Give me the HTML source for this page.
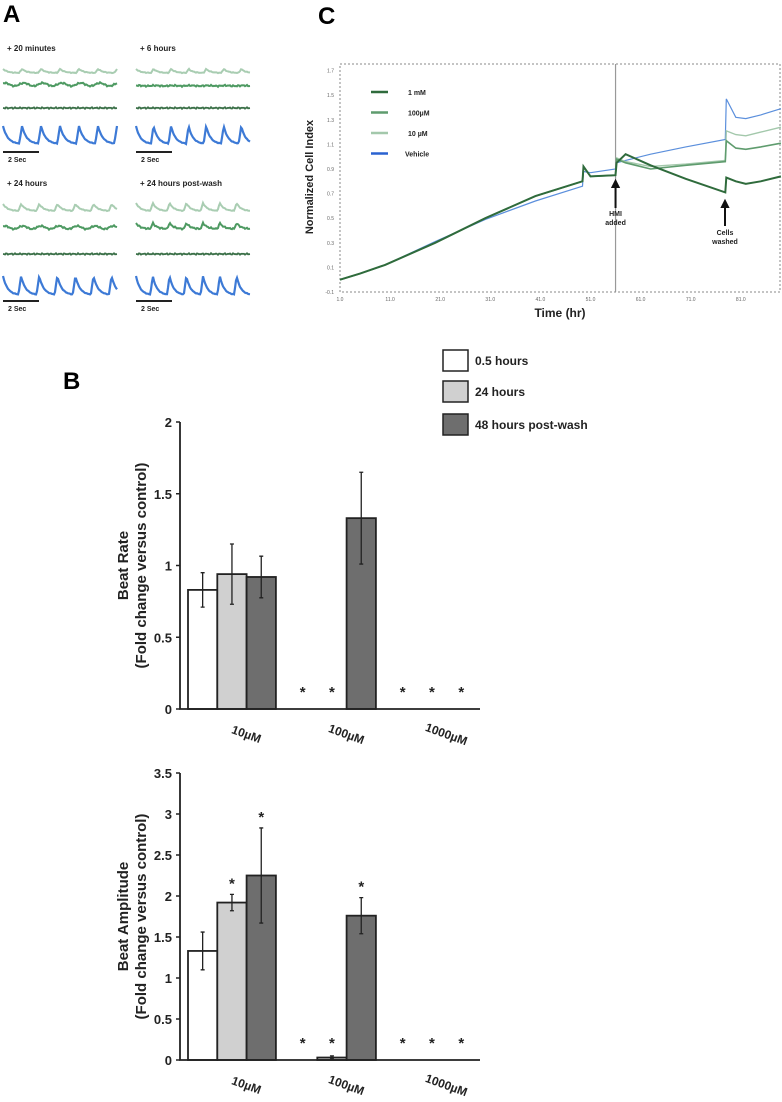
<!DOCTYPE html>
<html><head><meta charset="utf-8">
<style>
html,body{margin:0;padding:0;background:#fff;}
svg{display:block;font-family:"Liberation Sans",sans-serif;}
</style></head>
<body>
<svg id="fig" width="782" height="1102" viewBox="0 0 782 1102" xmlns="http://www.w3.org/2000/svg">
<text x="3" y="22" font-size="24" font-weight="bold">A</text>
<text x="318" y="24" font-size="24" font-weight="bold">C</text>
<text x="63" y="389" font-size="24" font-weight="bold">B</text>
<g id="panelA"></g>
<g id="panelC"></g>
<g id="rate"></g>
<g id="amp"></g>
<g>
<rect x="443" y="350" width="25" height="21" fill="#fff" stroke="#222" stroke-width="1.5"/>
<text x="475" y="365" font-size="12" font-weight="bold" fill="#222">0.5 hours</text>
<rect x="443" y="381" width="25" height="21" fill="#d0d0d0" stroke="#222" stroke-width="1.5"/>
<text x="475" y="396" font-size="12" font-weight="bold" fill="#222">24 hours</text>
<rect x="443" y="414" width="25" height="21" fill="#6e6e6e" stroke="#222" stroke-width="1.5"/>
<text x="475" y="429" font-size="12" font-weight="bold" fill="#222">48 hours post-wash</text>
</g>
</svg>
<script>
const NS="http://www.w3.org/2000/svg";
function mk(parent,tag,attrs,txt){const e=document.createElementNS(NS,tag);for(const k in attrs)e.setAttribute(k,attrs[k]);if(txt!==undefined)e.textContent=txt;parent.appendChild(e);return e;}

/* ---------- Panel B data ---------- */
const groups=["10µM","100µM","1000µM"];
const rateMean0=[0.83,0,0], rateMean24=[0.94,0,0], rateMean48=[0.92,1.33,0];
const rateErr0=[0.12,0,0], rateErr24=[0.21,0,0], rateErr48=[0.145,0.32,0];
const rateStar0=[0,1,1], rateStar24=[0,1,1], rateStar48=[0,0,1];
const ampMean0=[1.33,0,0], ampMean24=[1.92,0.03,0], ampMean48=[2.25,1.76,0];
const ampErr0=[0.23,0,0], ampErr24=[0.1,0.02,0], ampErr48=[0.58,0.22,0];
const ampStar0=[0,1,1], ampStar24=[1,1,1], ampStar48=[1,1,1];
const rateTicks=["0","0.5","1","1.5","2"];
const ampTicks=["0","0.5","1","1.5","2","2.5","3","3.5"];

function barChart(g,y0,pxPerUnit,ticks,means,errs,stars,ylab1){
  const ax=180,ar=480;
  const y=v=>y0-v*pxPerUnit;
  const gx=i=>188+i*100;
  const fills=["#ffffff","#d0d0d0","#6e6e6e"];
  ticks.forEach(t=>{const v=parseFloat(t);
    const tl=mk(g,'line',{x1:ax-4,x2:ax,y1:y(v),y2:y(v),stroke:'#222','stroke-width':1.5});
    
    const tt=mk(g,'text',{x:ax-8,y:y(v)+5,'font-size':13,'font-weight':'bold','text-anchor':'end',fill:'#222'},t);
    
  });
  for(let s=0;s<3;s++){
    for(let i=0;i<3;i++){
      const m=means[s][i],e=errs[s][i],x=gx(i)+s*29.3,w=29.3,cx=x+w/2;
      if(m>0){
        const r=mk(g,'rect',{x:x,y:y(m),width:w,height:y0-y(m),fill:fills[s],stroke:'#222','stroke-width':1.8});
        
      }
      if(e>0){
        const el=mk(g,'path',{d:`M${cx} ${y(m+e)}V${y(m-e)}M${cx-2} ${y(m+e)}H${cx+2}M${cx-2} ${y(m-e)}H${cx+2}`,stroke:'#222','stroke-width':1.3,fill:'none'});
        
      }
      if(stars[s][i]){
        const sy=m>0.1? y(m+e)-12 : y0-18;
        const st=mk(g,'text',{x:cx,y:sy+6,'font-size':15,'font-weight':'bold','text-anchor':'middle',fill:'#222'},'*');
        
      }
    }
  }
  const axl=mk(g,'path',{d:`M${ax} ${y(parseFloat(ticks[ticks.length-1]))}V${y0}H${ar}`,stroke:'#222','stroke-width':1.8,fill:'none'});
  
  groups.forEach((n,i)=>{
    const cx=gx(i)+57;
    const t=mk(g,'text',{x:0,y:0,'font-size':12,'font-weight':'bold',fill:'#222','text-anchor':'middle',transform:`translate(${cx},${y0+29}) rotate(20)`},n);
    
  });
  const cy=y(parseFloat(ticks[ticks.length-1])/2);
  const l1=mk(g,'text',{x:0,y:0,'font-size':15,'font-weight':'bold',fill:'#222','text-anchor':'middle',transform:`translate(128,${cy}) rotate(-90)`},ylab1);
  
  const l2=mk(g,'text',{x:0,y:0,'font-size':15,'font-weight':'bold',fill:'#222','text-anchor':'middle',transform:`translate(146,${cy}) rotate(-90)`},'(Fold change versus control)');
  
}
barChart(document.getElementById('rate'),709,143.5,rateTicks,[rateMean0,rateMean24,rateMean48],[rateErr0,rateErr24,rateErr48],[rateStar0,rateStar24,rateStar48],'Beat Rate');
barChart(document.getElementById('amp'),1060,82,ampTicks,[ampMean0,ampMean24,ampMean48],[ampErr0,ampErr24,ampErr48],[ampStar0,ampStar24,ampStar48],'Beat Amplitude');

/* ---------- Panel C data ---------- */
const cTimes=[1,5,10,20,30,40,49.4,49.6,51,56,56.2,58,63,70,77.9,78.1,80,82,85,89];
const c1mM=[0,0.05,0.12,0.3,0.5,0.68,0.8,0.92,0.84,0.85,0.95,1.02,0.93,0.82,0.71,0.83,0.8,0.78,0.8,0.84];
const c100=[0,0.05,0.12,0.3,0.5,0.68,0.8,0.92,0.84,0.85,0.98,0.95,0.9,0.93,0.96,1.13,1.07,1.06,1.08,1.11];
const c10=[0,0.05,0.12,0.3,0.5,0.68,0.8,0.92,0.84,0.85,0.99,0.96,0.92,0.94,0.97,1.21,1.18,1.17,1.2,1.24];
const cVeh=[0,0.05,0.12,0.31,0.49,0.64,0.76,0.88,0.87,0.9,0.95,0.97,1.02,1.08,1.14,1.47,1.32,1.31,1.34,1.39];
const cYTicks=["-0.1","0.1","0.3","0.5","0.7","0.9","1.1","1.3","1.5","1.7"];
const cXTicks=["1.0","11.0","21.0","31.0","41.0","51.0","61.0","71.0","81.0"];
(function(){
  const g=document.getElementById('panelC');
  const X=t=>340+(t-1)*5.01, Y=v=>292-(v+0.1)*123;
  const box=mk(g,'rect',{x:340,y:64,width:440,height:228,fill:'none',stroke:'#888','stroke-width':1,'stroke-dasharray':'2,2'});
  
  cYTicks.forEach(t=>{const v=parseFloat(t);
    const e=mk(g,'text',{x:334,y:Y(v)+2,'font-size':5,'text-anchor':'end',fill:'#666'},t);
    });
  cXTicks.forEach(t=>{const v=parseFloat(t);
    const e=mk(g,'text',{x:X(v),y:301,'font-size':5,'text-anchor':'middle',fill:'#666'},t);
    });
  const vl=mk(g,'line',{x1:X(56),x2:X(56),y1:64,y2:292,stroke:'#999','stroke-width':1.2});
  
  const series=[[cVeh,'#5b8fdc',1.2],[c10,'#a3c8ab',1.4],[c100,'#5f9c6e',1.6],[c1mM,'#2f6b3c',2]];
  series.forEach(s=>{
    const d=cTimes.map((t,i)=>(i?'L':'M')+X(t).toFixed(1)+' '+Y(s[0][i]).toFixed(1)).join('');
    const p=mk(g,'path',{d:d,fill:'none',stroke:s[1],'stroke-width':s[2]});
    
  });
  const leg=[['1 mM','#2f6b3c'],['100µM','#5f9c6e'],['10 µM','#a3c8ab'],['Vehicle','#2a62d0']];
  leg.forEach((l,i)=>{const yy=92+i*20.5;
    const ln=mk(g,'line',{x1:371,x2:388,y1:yy,y2:yy,stroke:l[1],'stroke-width':2.5});
    
    const tx=mk(g,'text',{x:i==3?405:408,y:yy+3,'font-size':7,'font-weight':'bold',fill:'#222'},l[0]);
    
  });
  const arrow=(x,y1,y2,nm)=>{const a=mk(g,'path',{d:`M${x} ${y2}V${y1+4}M${x-3} ${y1+6}L${x} ${y1}L${x+3} ${y1+6}Z`,stroke:'#111','stroke-width':2,fill:'#111'});
    };
  arrow(X(56),181,208,'hmi-arrow');arrow(725,201,226,'wash-arrow');
  [['HMI',X(56),216],['added',X(56),225],['Cells',725,235],['washed',725,244]].forEach(a=>{
    const t=mk(g,'text',{x:a[1],y:a[2],'font-size':7,'font-weight':'bold','text-anchor':'middle',fill:'#222'},a[0]);
    });
  const yt=mk(g,'text',{x:0,y:0,'font-size':11,'font-weight':'bold',fill:'#222','text-anchor':'middle',transform:'translate(313,177) rotate(-90)'},'Normalized Cell Index');
  
  const xt=mk(g,'text',{x:560,y:317,'font-size':12,'font-weight':'bold',fill:'#222','text-anchor':'middle'},'Time (hr)');
  
})();

/* ---------- Panel A traces ---------- */
const aLabels=["+ 20 minutes","+ 6 hours","+ 24 hours","+ 24 hours post-wash"];
const aBeats=[6,6.5,6.3,6.8];
const aMidAmp=[3,0.5,3,6];
const aTopAmp=[4,4,7,8];
(function(){
  const g=document.getElementById('panelA');
  const origins=[[3,48],[136,48],[3,183],[136,183]];
  origins.forEach((o,k)=>{
    const [ox,oy]=o;
    const t=mk(g,'text',{x:ox+4,y:oy+3,'font-size':8,'font-weight':'bold',fill:'#222'},aLabels[k]);
    
    const W=114, n=aBeats[k];
    const trace=(base,amp,color,sw,noise,shape,nm)=>{
      let d='';
      for(let i=0;i<=114;i++){
        const ph=((i/W)*n+0.15)%1;
        let v;
        if(shape==='spike') v = ph<0.15? ph/0.15 : Math.exp(-(ph-0.15)*4);
        else v = Math.sin(ph*2*Math.PI)*0.5+0.5;
        const nz=noise*Math.sin(i*2.7)*Math.cos(i*1.3);
        d+=(i?'L':'M')+(ox+i)+' '+(base-v*amp+nz).toFixed(1);
      }
      const p=mk(g,'path',{d:d,fill:'none',stroke:color,'stroke-width':sw});
      
    };
    const bot=k<2;
    trace(oy+(bot?25:28),aTopAmp[k],'#a9cdb2',2,0.4,'spike','trace-10um');
    trace(oy+(bot?38:46),aMidAmp[k],'#4e9a62',2,0.8,k==3?'spike':'sine','trace-100um');
    trace(oy+(bot?60:71),0,'#3b7048',1.8,0.8,'sine','trace-1mm');
    trace(oy+(bot?96:112),bot?18:19,'#3d7ad6',2.2,0.3,'spike','trace-vehicle');
    const sb=oy+(bot?104:118);
    const s=mk(g,'line',{x1:ox,x2:ox+36,y1:sb,y2:sb,stroke:'#222','stroke-width':2});
    
    const st=mk(g,'text',{x:ox+5,y:sb+10,'font-size':7,'font-weight':'bold',fill:'#222'},'2 Sec');
    
  });
})();
</script>
</body></html>
